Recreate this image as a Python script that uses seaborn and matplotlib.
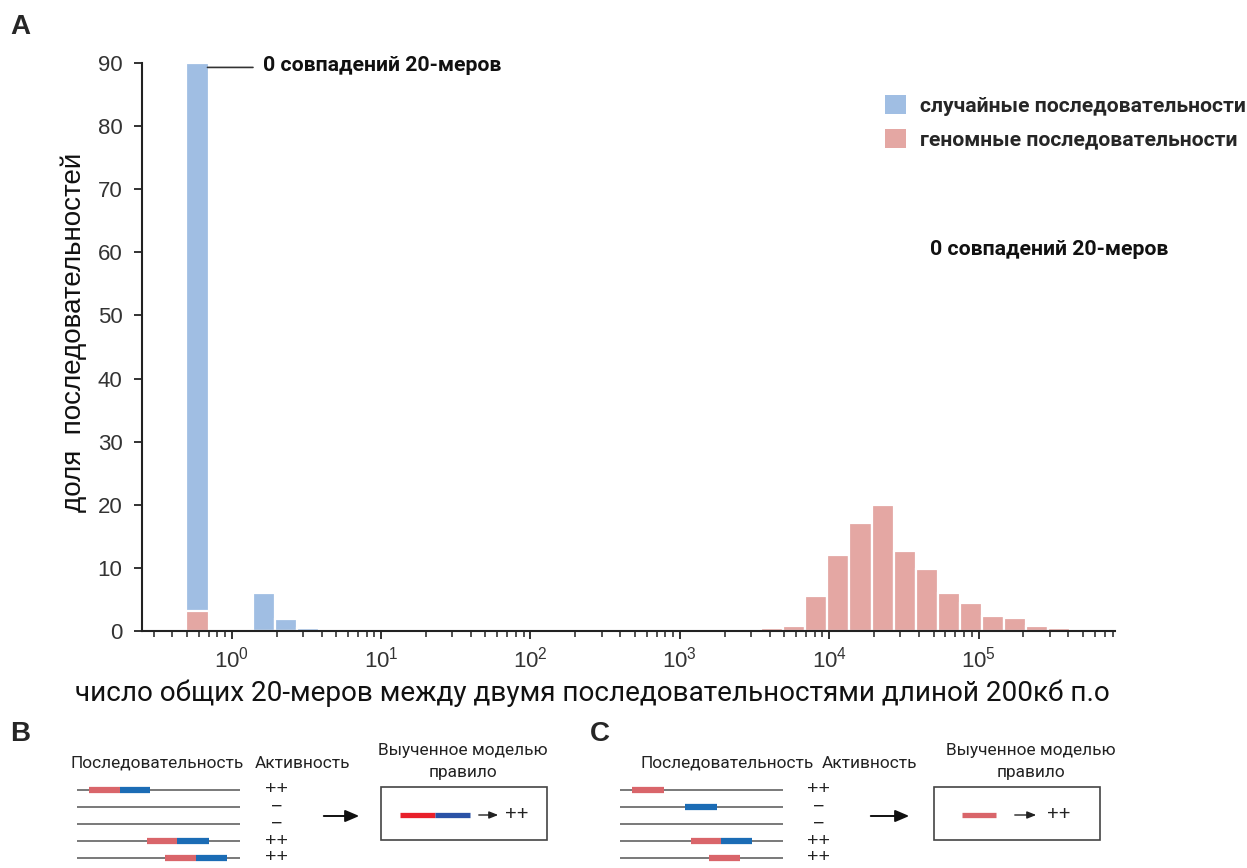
import numpy as np
import pandas as pd
import matplotlib
matplotlib.use("Agg")
import matplotlib.pyplot as plt
import seaborn as sns
from matplotlib.patches import Patch, Rectangle

# ---------------- data ----------------
# number of shared 20-mers (bin centres; 0 matches drawn at 0.6 on the log axis)
random_kmers = [0.6, 1.64, 2.31, 3.24]
random_share = [90.0, 6.1, 1.9, 0.4]

genomic_kmers = [0.6, 2.97e3, 4.17e3, 5.86e3, 8.24e3, 1.16e4, 1.63e4, 2.29e4,
                 3.22e4, 4.53e4, 6.37e4, 8.95e4, 1.26e5, 1.77e5, 2.49e5, 3.50e5]
genomic_share = [3.1, 0.2, 0.4, 0.8, 5.6, 12.0, 17.1, 20.0,
                 12.7, 9.9, 6.1, 4.4, 2.4, 2.1, 0.8, 0.4]

y_ticks = [0, 10, 20, 30, 40, 50, 60, 70, 80, 90]
x_ticks = [1, 10, 100, 1000, 10000, 100000]
legend_labels = ["случайные последовательности", "геномные последовательности"]
annot_text = "0 совпадений 20-меров"
xlabel = "число общих 20-меров между двумя последовательностями длиной 200кб п.о"
ylabel = "доля  последовательностей"

# panel B / C schematic
activity = ["++", "\u2212", "\u2212", "++", "++"]

BLUE = "#a0bee3"
PINK = "#e4a7a3"

# ---------------- style ----------------
sns.set_theme(style="ticks")
plt.rcParams["font.family"] = ["Liberation Sans", "DejaVu Sans"]
plt.rcParams["axes.edgecolor"] = "#222222"
plt.rcParams["xtick.color"] = "#222222"
plt.rcParams["ytick.color"] = "#222222"

fig = plt.figure(figsize=(12.47, 8.68), dpi=100)
W, H = 1247, 868

# axes in pixel geometry
x0, x1, ytop, ybot = 142, 1115, 63, 631
ax = fig.add_axes([x0 / W, 1 - ybot / H, (x1 - x0) / W, (ybot - ytop) / H])

binrange = (-0.3025, 5.6155)
common = dict(bins=40, binrange=binrange, log_scale=True, stat="count",
              element="bars", fill=True, alpha=1, edgecolor="white",
              linewidth=1.6, ax=ax)
sns.histplot(x=random_kmers, weights=random_share, color=BLUE, **common)
sns.histplot(x=genomic_kmers, weights=genomic_share, color=PINK, **common)

ax.set_xlim(0.251, 8.2e5)
ax.set_ylim(0, 90)
ax.set_yticks(y_ticks)
ax.set_xticks(x_ticks)
sns.despine(ax=ax)
for s in ["left", "bottom"]:
    ax.spines[s].set_linewidth(1.5)
ax.tick_params(axis="both", which="major", length=6, width=1.3,
               labelsize=16, labelcolor="#333333")
ax.tick_params(axis="y", which="major", pad=8)
ax.tick_params(axis="x", which="major", pad=5)
ax.tick_params(axis="x", which="minor", length=4, width=1.1)
ax.set_ylabel(ylabel, fontsize=20, color="#111111")
ax.yaxis.set_label_coords((74 - x0) / (x1 - x0), 0.526)
ax.yaxis.label.set_va("center")
ax.set_xlabel(xlabel, fontsize=20.1, color="#111111", family=["Roboto", "DejaVu Sans"])
ax.xaxis.set_label_coords(0.4625, -0.109)
ax.xaxis.label.set_va("center")

# annotations
ax.annotate("", xy=(0.66, 89.3), xytext=(1.45, 89.3),
            arrowprops=dict(arrowstyle="-", color="#333333", lw=1.2))
ax.text(1.62, 89.6, annot_text, fontsize=15.3, fontweight="bold",
        family=["Roboto", "DejaVu Sans"], va="center", ha="left", color="#111111")
ax.text(4.72e4, 60.5, annot_text, fontsize=15.3, fontweight="bold",
        family=["Roboto", "DejaVu Sans"], va="center", ha="left", color="#111111")

handles = [Patch(facecolor=BLUE, edgecolor="none"), Patch(facecolor=PINK, edgecolor="none")]
leg = ax.legend(handles, legend_labels, loc="upper left",
                bbox_to_anchor=((885 - x0) / (x1 - x0), (ybot - 95) / (ybot - ytop)),
                frameon=False, borderpad=0, borderaxespad=0,
                handlelength=1.0, handleheight=1.0, handletextpad=0.68,
                labelspacing=0.62, prop=dict(family=["Roboto", "DejaVu Sans"],
                                             weight="bold", size=15.2))

# ---------------- panels B and C (schematic, pixel coordinates) ----------------
ov = fig.add_axes([0, 0, 1, 1], zorder=-1)
ov.set_xlim(0, W)
ov.set_ylim(H, 0)
ov.axis("off")
ov.patch.set_alpha(0)

fig.text(10 / W, 1 - 27 / H, "A", fontsize=20, fontweight="bold", va="center", ha="left")
fig.text(10 / W, 1 - 734 / H, "B", fontsize=20, fontweight="bold", va="center", ha="left")
fig.text(590 / W, 1 - 734 / H, "C", fontsize=20, fontweight="bold", va="center", ha="left")

tf = ["Roboto", "DejaVu Sans"]
sf = ["Liberation Sans", "DejaVu Sans"]
row_y = [790, 807, 824, 841, 858]
SEG_RED = "#d9656a"
SEG_BLUE = "#1b6cb5"

def panel(seq_hdr, act_hdr, rule_x, line_x, segs, act_x, arrow_x, box, rule_segs,
          small_arrow, plus_x):
    fs = 12.4
    ov.text(seq_hdr, 763, "Последовательность", fontsize=fs, family=tf, ha="left", va="center", color="#222")
    ov.text(act_hdr, 763, "Активность", fontsize=fs, family=tf, ha="left", va="center", color="#222")
    ov.text(rule_x, 751, "Выученное моделью", fontsize=fs, family=tf, ha="center", va="center", color="#222")
    ov.text(rule_x, 772, "правило", fontsize=fs, family=tf, ha="center", va="center", color="#222")
    for i, y in enumerate(row_y):
        ov.plot(line_x, [y, y], color="#555555", lw=1.1, solid_capstyle="butt")
        for (a, b, c) in segs[i]:
            ov.plot([a, b], [y, y], color=c, lw=4.5, solid_capstyle="butt")
        ov.text(act_x, y, activity[i], fontsize=14, family=sf, ha="center", va="center", color="#222")
    ov.annotate("", xy=(arrow_x[1], 816), xytext=(arrow_x[0], 816),
                arrowprops=dict(arrowstyle="-|>,head_length=0.7,head_width=0.3", color="#111", lw=1.4))
    bx0, by0, bx1, by1 = box
    ov.add_patch(Rectangle((bx0, by0), bx1 - bx0, by1 - by0, fill=False, ec="#444", lw=1.2))
    for (a, b, c) in rule_segs:
        ov.plot([a, b], [815, 815], color=c, lw=3.8, solid_capstyle="butt")
    ov.annotate("", xy=(small_arrow[1], 815), xytext=(small_arrow[0], 815),
                arrowprops=dict(arrowstyle="-|>,head_length=0.45,head_width=0.18", color="#222", lw=1.0))
    ov.text(plus_x, 815, "++", fontsize=14.5, family=sf, ha="left", va="center", color="#222")

segs_B = [[(89, 120, SEG_RED), (120, 150, SEG_BLUE)], [], [],
          [(147, 177, SEG_RED), (177, 209, SEG_BLUE)],
          [(165, 196, SEG_RED), (196, 227, SEG_BLUE)]]
panel(70, 255, 463, [77, 240], segs_B, 277, (321, 362), (381, 787, 547, 840),
      [(400, 435, "#e8202b"), (435, 470, "#2a52a6")], (476, 501), 505)

segs_C = [[(632, 664, SEG_RED)], [(685, 717, SEG_BLUE)], [],
          [(691, 721, SEG_RED), (721, 752, SEG_BLUE)],
          [(709, 740, SEG_RED)]]
panel(640, 822, 1031, [620, 783], segs_C, 819, (868, 912), (934, 787, 1100, 840),
      [(962, 996, SEG_RED)], (1012, 1039), 1047)

fig.savefig("out.png", dpi=100)
